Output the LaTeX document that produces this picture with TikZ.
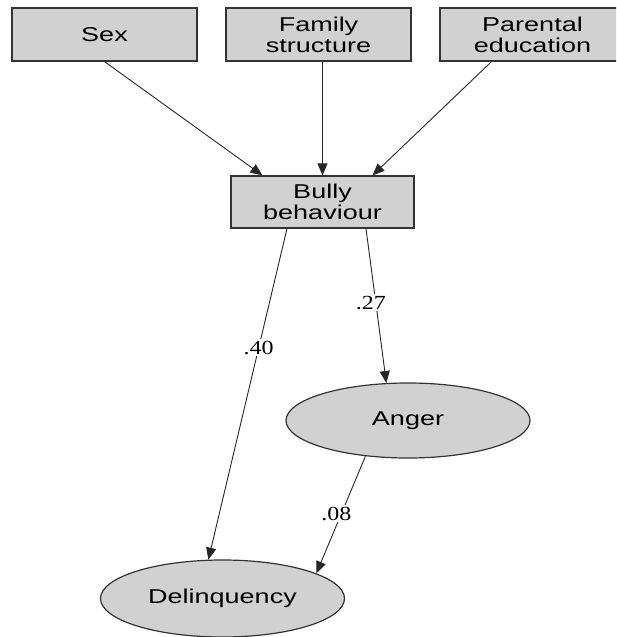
\documentclass[tikz,border=0pt]{standalone}
\usepackage{fontspec}
\setmainfont{Liberation Serif}
\newfontfamily\boxfont[FakeStretch=1.35]{Liberation Sans}
\newfontfamily\coeffont[FakeStretch=1.2]{Liberation Serif}
\usetikzlibrary{arrows.meta,shapes.geometric}
\definecolor{boxgray}{HTML}{D1D1D1}
\definecolor{edgegray}{HTML}{333333}

\begin{document}
\begin{tikzpicture}[x=1pt, y=-1pt,
    var/.style={draw=edgegray, line width=1.2pt, fill=boxgray, align=center,
      inner sep=0pt, font=\boxfont\fontsize{20}{21}\selectfont},
    obs/.style={var, rectangle, minimum width=185pt, minimum height=53pt},
    lat/.style={var, ellipse, minimum width=244pt, minimum height=75pt},
    effect/.style={draw=black!85, line width=0.9pt, -{Triangle[length=12pt,width=10pt]}},
    coef/.style={fill=white, inner sep=1.5pt, font=\coeffont\fontsize{20}{22}\selectfont}]
    \useasboundingbox (0,0) rectangle (616,637);
    \clip (0,0) rectangle (616,637);

    % predictors
    \node[obs] (sex) at (104.5,34.5) {Sex};
    \node[obs] (family) at (318.5,34.5) {Family\\structure};
    \node[obs] (parent) at (532.5,34.5) {Parental\\education};

    \node[obs, minimum width=183pt, minimum height=52pt] (bully) at (322.5,202) {Bully\\behaviour};

    % outcomes
    \node[lat] (anger) at (408,420.5) {Anger};
    \node[lat, minimum height=77pt] (delinq) at (222.5,598.5) {Delinquency};

    \foreach \src/\sx/\tx in {sex/0/-60, family/4/0, parent/-41/50}{
      \draw[effect] ([xshift=\sx pt]\src.south) -- ([xshift=\tx pt]bully.north);
    }

    \draw[effect] ([xshift=-35.5pt]bully.south) -- node[coef, pos=.36] {.40} (delinq.110);
    \draw[effect] ([xshift=43.5pt]bully.south) -- node[coef, pos=.48, xshift=-5pt] {.27} (anger.120);
    \draw[effect] (anger.220) -- node[coef, pos=.49, xshift=-5pt] {.08} (delinq.15);
  \end{tikzpicture}
\end{document}
